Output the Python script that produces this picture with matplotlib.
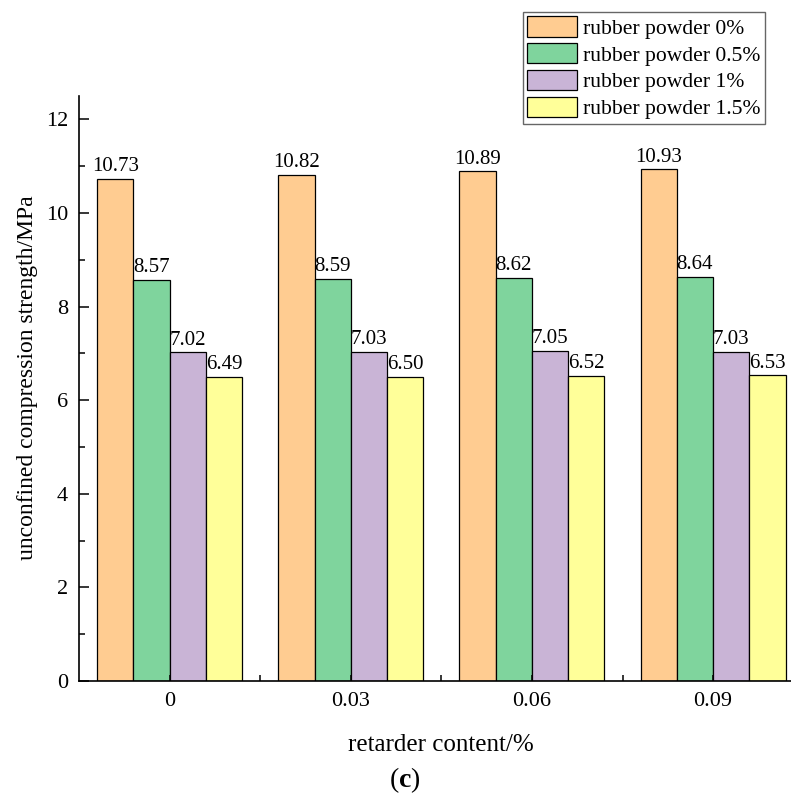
import numpy as np
import matplotlib.pyplot as plt
from matplotlib.ticker import MultipleLocator, FixedLocator

plt.rcParams["font.family"] = ["Liberation Serif", "DejaVu Serif"]
plt.rcParams["mathtext.fontset"] = "custom"
plt.rcParams["mathtext.rm"] = "Liberation Serif"
plt.rcParams["mathtext.bf"] = "Liberation Serif:bold"

retarder = ["0", "0.03", "0.06", "0.09"]
series_names = [
    "rubber powder 0%",
    "rubber powder 0.5%",
    "rubber powder 1%",
    "rubber powder 1.5%",
]
rp_0 = [10.73, 10.82, 10.89, 10.93]
rp_05 = [8.57, 8.59, 8.62, 8.64]
rp_1 = [7.02, 7.03, 7.05, 7.03]
rp_15 = [6.49, 6.50, 6.52, 6.53]
colors = ["#FFCC91", "#7FD49D", "#C9B4D6", "#FFFF99"]

fig = plt.figure(figsize=(7.91, 7.98), dpi=100)
ax = fig.add_axes([0.0999, 0.1466, 0.9001, 0.7331])

x = np.arange(len(retarder))
width = 0.2
for i, (vals, name) in enumerate(zip([rp_0, rp_05, rp_1, rp_15], series_names)):
    pos = x + (i - 1.5) * width
    ax.bar(pos, vals, width, color=colors[i], edgecolor="black", linewidth=0.9, label=name)
    for px, v in zip(pos, vals):
        ax.text(px, v + 0.06, f"{v:.2f}", ha="center", va="bottom", fontsize=15)

ax.set_xlim(-0.5, 3.43)
ax.set_ylim(0, 12.5)
ax.set_xticks(x, labels=retarder)
ax.xaxis.set_minor_locator(FixedLocator(x[:-1] + 0.5))
ax.yaxis.set_major_locator(MultipleLocator(2))
ax.yaxis.set_minor_locator(MultipleLocator(1))
ax.tick_params(which="major", direction="in", length=7, width=1.1, labelsize=16, pad=8)
ax.tick_params(which="minor", direction="in", length=4, width=1.1)
ax.tick_params(axis="x", which="major", length=4)
for s in ["top", "right"]:
    ax.spines[s].set_visible(False)
for s in ["left", "bottom"]:
    ax.spines[s].set_linewidth(1.2)

ax.set_ylabel("unconfined compression strength/MPa", fontsize=17)
ax.yaxis.set_label_coords(-0.058, 0.518)
ax.set_xlabel("retarder content/%", fontsize=18, labelpad=16)
ax.xaxis.set_label_coords(0.508, -0.09)
ax.xaxis.label.set_va("top")

leg = ax.legend(
    loc="upper right",
    bbox_to_anchor=(0.9674, 0.985),
    bbox_transform=fig.transFigure,
    fontsize=15.6,
    frameon=True,
    fancybox=False,
    edgecolor="#404040",
    handlelength=2.3,
    handleheight=1.06,
    handletextpad=0.28,
    labelspacing=0.2,
    borderpad=0.2,
    borderaxespad=0,
)
leg.get_frame().set_linewidth(1.0)

fig.text(0.512, 0.022, r"($\mathbf{c}$)", ha="center", va="center", fontsize=20)

fig.savefig("out.png", dpi=100)
